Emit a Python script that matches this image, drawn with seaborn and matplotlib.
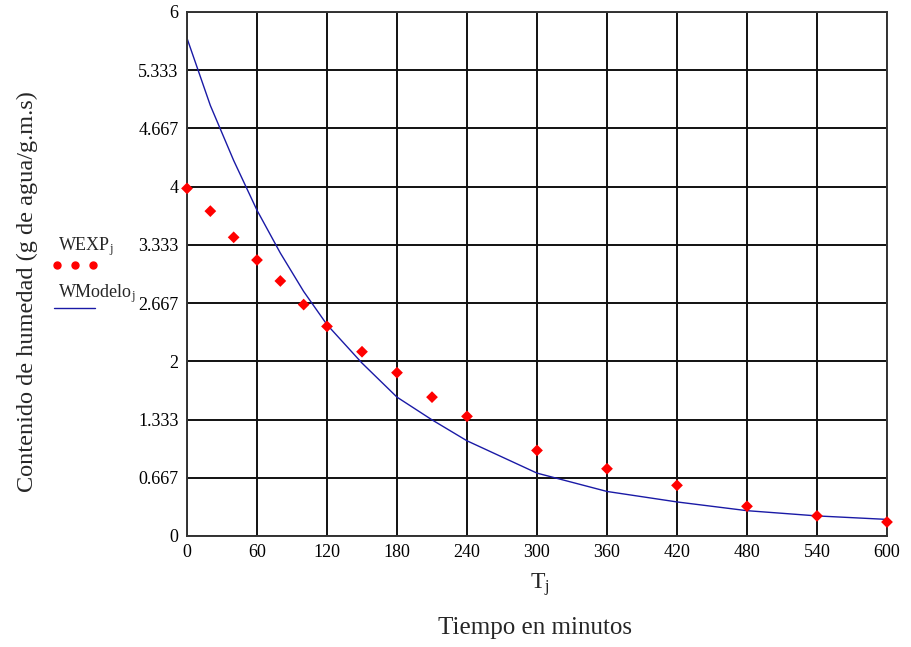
import matplotlib
matplotlib.use("Agg")
import matplotlib.pyplot as plt
import numpy as np
import pandas as pd
import seaborn as sns
from matplotlib.lines import Line2D

# tiempo (min) y contenido de humedad
tiempo = [0, 20, 40, 60, 80, 100, 120, 150, 180, 210, 240, 300, 360, 420, 480, 540, 600]
w_exp = [3.98, 3.72, 3.42, 3.16, 2.92, 2.65, 2.40, 2.11, 1.87, 1.59, 1.37,
         0.98, 0.77, 0.58, 0.34, 0.23, 0.16]
w_modelo = [5.70, 4.93, 4.30, 3.73, 3.24, 2.80, 2.42, 1.98, 1.59, 1.33, 1.09,
            0.72, 0.51, 0.39, 0.29, 0.23, 0.19]

x_ticks = list(range(0, 601, 60))
y_ticks = [0, 0.667, 1.333, 2, 2.667, 3.333, 4, 4.667, 5.333, 6]
y_labels = ["0", "0.667", "1.333", "2", "2.667", "3.333", "4", "4.667", "5.333", "6"]

df = pd.DataFrame({"T": tiempo, "WEXP": w_exp, "WModelo": w_modelo})

sns.set_theme(style="white")
plt.rcParams["font.family"] = ["Liberation Serif", "DejaVu Serif"]
plt.rcParams["mathtext.default"] = "regular"

fig = plt.figure(figsize=(9.11, 6.47), dpi=100)
ax = fig.add_axes([187 / 911, 1 - 536 / 647, 700 / 911, 524 / 647])

sns.lineplot(data=df, x="T", y="WModelo", ax=ax, color="#1a1aa6", linewidth=1.0,
             legend=False)
sns.scatterplot(data=df, x="T", y="WEXP", ax=ax, color="#ff0000", marker="D",
                s=36, edgecolor="none", legend=False, clip_on=False, zorder=3)

ax.set_xlim(0, 600)
ax.set_ylim(0, 6)
ax.set_xticks(x_ticks)
ax.set_yticks(y_ticks)
ax.set_yticklabels(y_labels)
ax.grid(True, color="#111111", linewidth=1.4)
ax.set_axisbelow(True)
for spine in ax.spines.values():
    spine.set_color("#333333")
    spine.set_linewidth(1.4)
ax.tick_params(axis="both", length=0, labelsize=13, colors="black", pad=6)
ax.set_xlabel("")
ax.set_ylabel("")

fig.text(540 / 911, 1 - 585 / 647, "$T_j$", fontsize=17, ha="center", va="center")
fig.text(535 / 911, 1 - 628 / 647, "Tiempo en minutos", fontsize=18,
         ha="center", va="center")
fig.text(27 / 911, 1 - 292 / 647, "Contenido de humedad (g de agua/g.m.s)",
         fontsize=17.5, rotation=90, ha="center", va="center")

# leyenda estilo Mathcad
fig.text(58 / 911, 1 - 247 / 647, "$WEXP_j$", fontsize=13, ha="left", va="center")
fig.add_artist(Line2D([57 / 911, 75 / 911, 93 / 911], [1 - 265 / 647] * 3,
                      transform=fig.transFigure, linestyle="none", marker="o",
                      markersize=5, color="#ff0000"))
fig.text(58 / 911, 1 - 294 / 647, "$WModelo_j$", fontsize=13, ha="left", va="center")
fig.add_artist(Line2D([54 / 911, 95 / 911], [1 - 308 / 647] * 2,
                      transform=fig.transFigure, color="#1a1aa6", linewidth=1.0))

fig.savefig("out.png", dpi=100)
